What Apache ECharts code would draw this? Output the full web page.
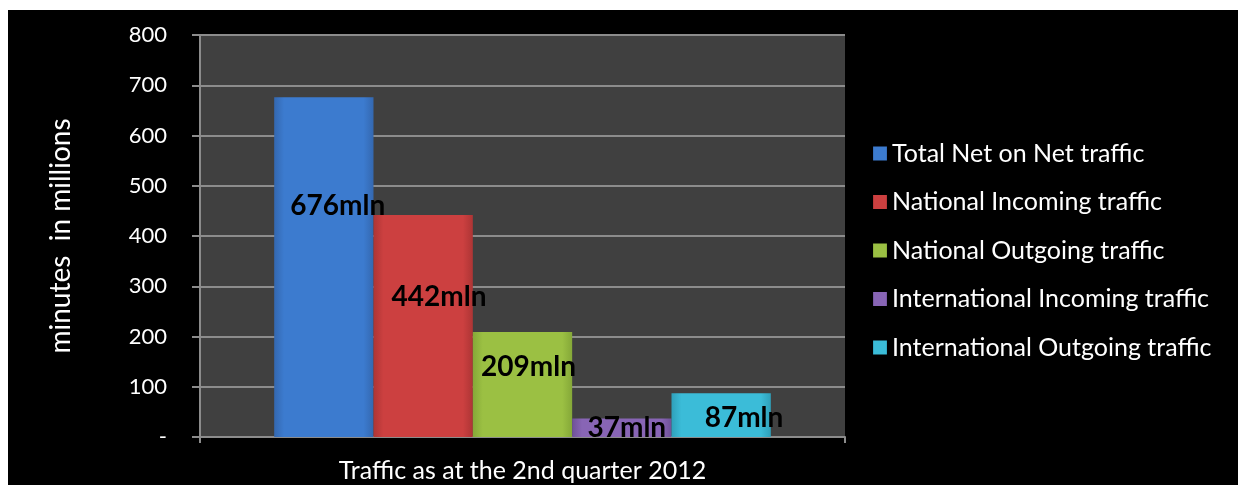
<!DOCTYPE html>
<html>
<head>
<meta charset="utf-8">
<script src="https://cdn.jsdelivr.net/npm/echarts@6/dist/echarts.min.js"></script>
<style>
  html, body { margin: 0; padding: 0; background: #ffffff; width: 1238px; height: 485px; overflow: hidden; }
  #chart { position: absolute; left: 8px; top: 10px; width: 1230px; height: 475px; background: #000000; }
</style>
</head>
<body>
<div id="chart"></div>
<script>
const categories = [''];
const seriesNames = [
  'Total Net on Net traffic',
  'National Incoming traffic',
  'National Outgoing traffic',
  'International Incoming traffic',
  'International Outgoing traffic'
];
const seriesValues = [676, 442, 209, 37, 87];
const yTickValues = [0, 100, 200, 300, 400, 500, 600, 700, 800];
const xAxisTitle = 'Traffic as at the 2nd quarter 2012';
const yAxisTitle = 'minutes  in millions';

const palette = [
  ['#5b95e0', '#3c7bcf', '#3468b0'],
  ['#e05a5a', '#cc4040', '#ad3535'],
  ['#b1d65a', '#9bc043', '#85a838'],
  ['#a07fd0', '#8865b5', '#6f5198'],
  ['#5ad0ea', '#3bbcd8', '#2fa0ba']
];
const labelPos = [
  ['64%', '32%'],
  ['66%', '37%'],
  ['56%', '33%'],
  ['55%', '52%'],
  ['73%', '57%']
];
const FONT = 'Lato, "Open Sans", sans-serif';

const chart = echarts.init(document.getElementById('chart'), null, { renderer: 'canvas' });
const series = seriesNames.map((name, i) => ({
  name: name,
  type: 'bar',
  data: [seriesValues[i]],
  barGap: '0%',
  barCategoryGap: '23%',
  itemStyle: {
    color: new echarts.graphic.LinearGradient(0, 0, 1, 0, [
      { offset: 0, color: palette[i][2] },
      { offset: 0.1, color: palette[i][1] },
      { offset: 0.9, color: palette[i][1] },
      { offset: 1, color: palette[i][2] }
    ])
  },
  label: {
    show: true,
    position: labelPos[i],
    align: 'center',
    verticalAlign: 'middle',
    formatter: '{c}mln',
    color: '#000000',
    fontFamily: FONT,
    fontWeight: 'bold',
    fontSize: 28
  }
}));

chart.setOption({
  backgroundColor: '#000000',
  animation: false,
  grid: { left: 192, right: 393, top: 25, bottom: 48, show: true, backgroundColor: '#404040', borderWidth: 0, outerBoundsMode: 'none', containLabel: false },
  legend: {
    orient: 'vertical',
    left: 865,
    top: 131,
    padding: 0,
    itemWidth: 14,
    itemHeight: 14,
    itemGap: 23.5,
    icon: 'rect',
    data: seriesNames,
    textStyle: { color: '#ffffff', fontFamily: FONT, fontSize: 25 }
  },
  xAxis: {
    type: 'category',
    data: categories,
    name: xAxisTitle,
    nameLocation: 'middle',
    nameGap: 21,
    nameTextStyle: { color: '#ffffff', fontFamily: FONT, fontSize: 25 },
    axisLine: { lineStyle: { color: '#8c8c8c', width: 2 } },
    axisTick: { show: true, length: 6, lineStyle: { color: '#8c8c8c', width: 2 } },
    axisLabel: { show: false }
  },
  yAxis: {
    type: 'value',
    min: 0,
    max: 800,
    interval: 100,
    name: yAxisTitle,
    nameLocation: 'middle',
    nameRotate: 90,
    nameGap: 125,
    nameTextStyle: { color: '#ffffff', fontFamily: FONT, fontSize: 28 },
    axisLine: { show: true, lineStyle: { color: '#8c8c8c', width: 2 } },
    axisTick: { show: true, length: 8, lineStyle: { color: '#8c8c8c', width: 2 } },
    axisLabel: {
      color: '#ffffff',
      fontFamily: FONT,
      fontSize: 22,
      margin: 33,
      formatter: v => (yTickValues.indexOf(v) === 0 ? '-' : String(v))
    },
    splitLine: { show: true, lineStyle: { color: '#8c8c8c', width: 2 } }
  },
  series: series
});
</script>
</body>
</html>
